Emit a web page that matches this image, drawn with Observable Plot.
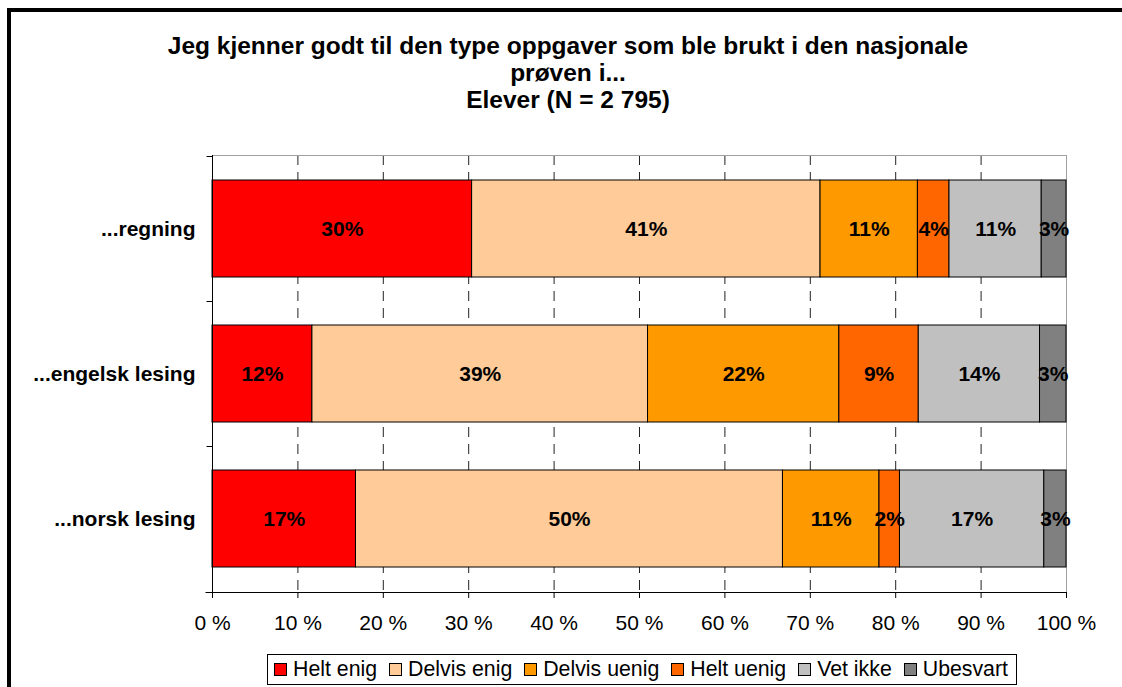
<!DOCTYPE html>
<html>
<head>
<meta charset="utf-8">
<script src="https://cdn.jsdelivr.net/npm/d3@7"></script>
<script src="https://cdn.jsdelivr.net/npm/@observablehq/plot@0.6"></script>
<style>
  html, body { margin: 0; padding: 0; background: #fff; overflow: hidden; }
  body { width: 1122px; height: 687px; position: relative; font-family: "Liberation Sans", Arial, sans-serif; color: #000; }
  #frame { position: absolute; left: 7px; top: 8px; width: 1300px; height: 900px; border: 4px solid #000; box-sizing: border-box; }
  #title { position: absolute; left: 0; top: 32px; width: 1136px; text-align: center; font-weight: bold; font-size: 24.5px; line-height: 27px; }
  #chart { position: absolute; left: 0; top: 130px; }
  #legend { position: absolute; left: 267px; top: 654px; height: 31px; box-sizing: border-box; border: 1px solid #000; display: flex; align-items: center; padding: 0 8px 0 6px; font-size: 21.3px; background: #fff; white-space: nowrap; }
  .item { display: flex; align-items: center; margin-right: 12px; }
  .item:last-child { margin-right: 0; }
  .sw { width: 11px; height: 11px; border: 1px solid #000; margin-right: 6px; }
</style>
</head>
<body>
<div id="frame"></div>
<div id="title">Jeg kjenner godt til den type oppgaver som ble brukt i den nasjonale<br>prøven i...<br>Elever (N = 2 795)</div>
<div id="chart"></div>
<div id="legend"></div>
<script>
const categories = ["...regning", "...engelsk lesing", "...norsk lesing"];
const series = ["Helt enig", "Delvis enig", "Delvis uenig", "Helt uenig", "Vet ikke", "Ubesvart"];
const heltEnig    = [30.4, 11.7, 16.8];
const delvisEnig  = [40.8, 39.3, 50.0];
const delvisUenig = [11.4, 22.4, 11.3];
const heltUenig   = [3.7, 9.3, 2.4];
const vetIkke     = [10.8, 14.2, 16.9];
const ubesvart    = [2.9, 3.1, 2.6];
const xTicks = [0, 10, 20, 30, 40, 50, 60, 70, 80, 90, 100];
const gridTicks = [10, 20, 30, 40, 50, 60, 70, 80, 90];

const colors = ["#FF0000", "#FFCC99", "#FF9900", "#FF6600", "#C0C0C0", "#808080"];
const seriesValues = [heltEnig, delvisEnig, delvisUenig, heltUenig, vetIkke, ubesvart];

const rows = series.flatMap((s, i) => categories.map((c, j) => ({cat: c, series: s, value: seriesValues[i][j]})));

function axisLines(index, scales, values, dims) {
  const {x, y} = scales;
  const g = d3.create("svg:g").attr("stroke", "#000").attr("fill", "none").attr("stroke-width", 1);
  const top = dims.marginTop, bottom = dims.height - dims.marginBottom;
  const x0 = Math.round(x(0)) + 0.5, x1 = Math.round(x(100)) + 0.5;
  const yb = Math.round(bottom) + 0.5;
  g.append("line").attr("x1", x0).attr("x2", x0).attr("y1", top).attr("y2", bottom);
  g.append("line").attr("x1", x0 - 7).attr("x2", x1).attr("y1", yb).attr("y2", yb);
  const step = y(categories[1]) - y(categories[0]);
  let bw = typeof y.bandwidth === "function" ? y.bandwidth() : y.bandwidth;
  if (!(bw > 0)) bw = step * (1 - 0.334);
  const bounds = categories.map(c => y(c) - (step - bw) / 2);
  bounds.forEach(b => {
    if (!isFinite(b)) return;
    const yy = Math.round(b) + 0.5;
    g.append("line").attr("x1", x0 - 6).attr("x2", x0).attr("y1", yy).attr("y2", yy);
  });
  return g.node();
}

const chart = Plot.plot({
  width: 1122,
  height: 520,
  marginLeft: 212,
  marginRight: 56,
  marginTop: 25,
  marginBottom: 58,
  style: {fontFamily: "'Liberation Sans', Arial, sans-serif", fontSize: "21px", color: "#000", background: "transparent"},
  x: {domain: [0, 100], label: null},
  y: {domain: categories, paddingInner: 0.334, paddingOuter: 0.167, label: null},
  color: {domain: series, range: colors},
  marks: [
    Plot.ruleX(gridTicks, {stroke: "#222", strokeDasharray: "10,7"}),
    Plot.frame({stroke: "#a0a0a0"}),
    Plot.barX(rows, Plot.stackX({x: "value", y: "cat", fill: "series", stroke: "#000", strokeWidth: 1})),
    Plot.text(rows, Plot.stackX({x: "value", y: "cat", z: "series", text: d => Math.round(d.value) + "%", fontWeight: "bold", fontSize: 21, fill: "#000"})),
    Plot.axisX({ticks: xTicks, tickFormat: d => d + " %", tickSize: 6, tickPadding: 17, fontSize: 21, label: null}),
    Plot.axisY({tickSize: 0, tickPadding: 17, fontWeight: "bold", fontSize: 21, label: null}),
    axisLines
  ]
});
document.getElementById("chart").appendChild(chart);

const legend = document.getElementById("legend");
series.forEach((s, i) => {
  const it = document.createElement("div");
  it.className = "item";
  const sw = document.createElement("div");
  sw.className = "sw";
  sw.style.background = colors[i];
  const t = document.createElement("span");
  t.textContent = s;
  it.appendChild(sw);
  it.appendChild(t);
  legend.appendChild(it);
});
</script>
</body>
</html>
